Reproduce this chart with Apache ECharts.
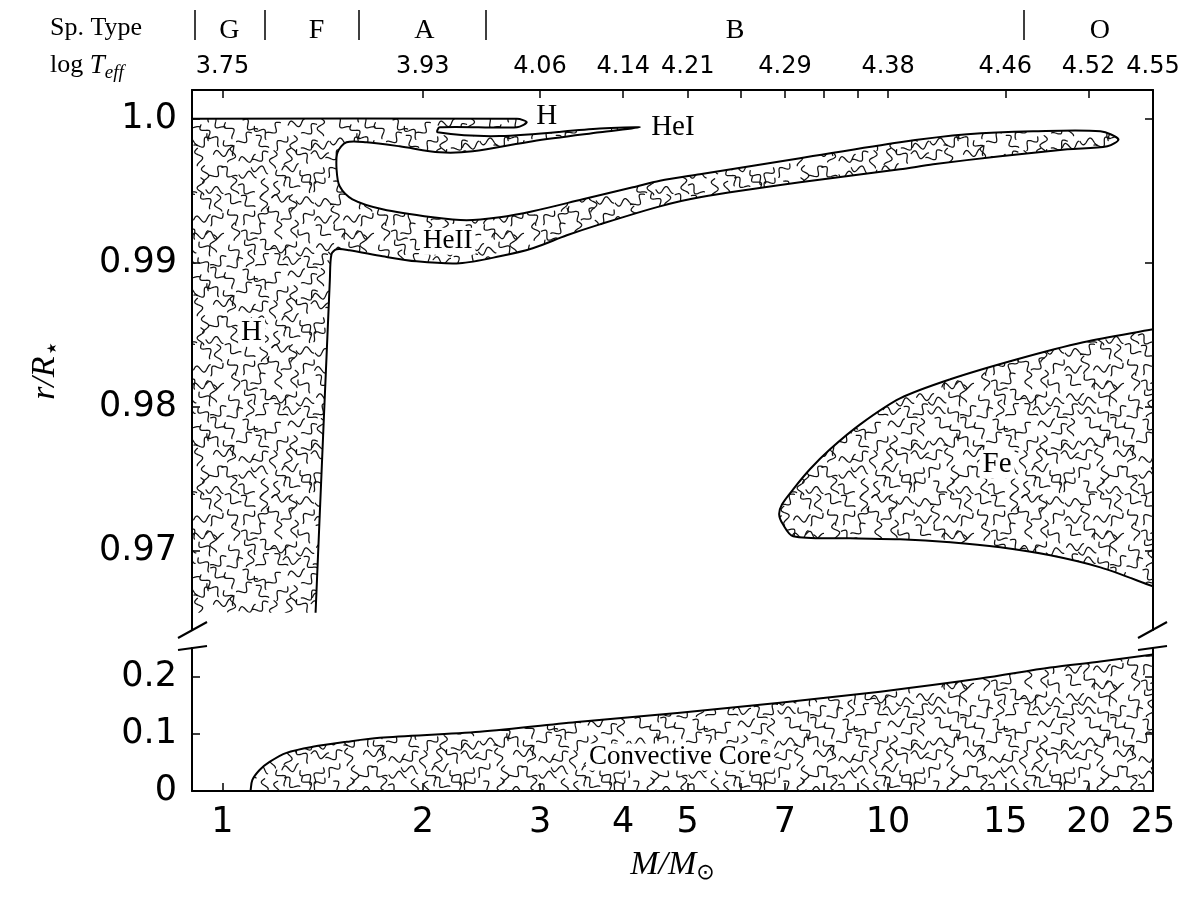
<!DOCTYPE html>
<html>
<head>
<meta charset="utf-8">
<script src="https://cdn.jsdelivr.net/npm/echarts@6/dist/echarts.min.js"></script>
<style>
    html, body { margin: 0; background: #fff; }
    #main { width: 1200px; height: 900px; }
</style>
</head>
<body>
<div id="main"></div>
<script>
// mass range of the plot (log axis, drawn as log10 of the mass)
var massMin = 0.9, massMax = 25;

// H + HeI + HeII zone, walked round from the bottom left corner
var envMass = [0.9, 0.9, 2.77, 2.865, 2.77, 2.12, 2.105, 2.609, 3.689, 4.238, 3.689, 2.925, 2.376, 2.12,
    1.846, 1.646, 1.536, 1.489, 1.484, 1.500, 1.568, 1.740, 2.069, 2.327, 2.609, 2.925, 3.478, 4.136,
    4.541, 5.215, 7.374, 10.42, 13.15, 16.52, 20.84, 22.18, 21.35, 18.59, 14.74, 11.69, 10.42, 7.374,
    5.215, 4.541, 3.689, 3.291, 2.925, 2.609, 2.272, 1.957, 1.740, 1.552, 1.484, 1.458, 1.450, 1.380];
var envR = [0.9657, 1.0, 1.0, 0.99976, 0.99941, 0.99941, 0.99906, 0.99880, 0.99932, 0.99941, 0.99906, 0.99844, 0.99774, 0.99767,
    0.99809, 0.99837, 0.99837, 0.99767, 0.99649, 0.99531, 0.99441, 0.99372, 0.99316, 0.99295, 0.99316, 0.99358, 0.99441, 0.99524,
    0.99570, 0.99615, 0.99726, 0.99837, 0.99892, 0.99913, 0.99913, 0.99858, 0.99809, 0.99788, 0.99740, 0.99684, 0.99649, 0.99559,
    0.99455, 0.99392, 0.99267, 0.99191, 0.99101, 0.99045, 0.98997, 0.99010, 0.99045, 0.99087, 0.99094, 0.99059, 0.98885, 0.9657];

// Fe bump zone
var feMass = [25, 19.64, 15.63, 12.40, 10.42, 9.08, 8.18, 7.63, 7.20, 6.93, 6.86, 6.95, 7.20, 8.77, 10.42, 12.40, 14.74, 17.52, 20.84, 25];
var feR = [0.98538, 0.98448, 0.98330, 0.98191, 0.98058, 0.97878, 0.97705, 0.97566, 0.97427, 0.97323, 0.97253, 0.97184,
    0.97101, 0.97087, 0.97080, 0.97059, 0.97024, 0.96969, 0.96885, 0.96753];

// convective core (lower panel)
var coreMass = [1.102, 1.109, 1.137, 1.177, 1.248, 1.366, 1.536, 1.722, 2.435, 3.442, 4.868, 6.88, 9.73, 13.75, 17.52, 20.84, 25];
var coreR = [0, 0.0193, 0.0368, 0.0509, 0.0667, 0.0772, 0.0860, 0.0930, 0.1035, 0.1211, 0.1368, 0.1544, 0.1737, 0.1965, 0.2158, 0.2263, 0.2386];

// region names
var labelText = ['H', 'HeI', 'HeII', 'H', 'Fe', 'Convective Core'];
var labelMass = [3.07, 4.75, 2.18, 1.106, 14.58, 4.87];
var labelR = [1.00017, 0.99941, 0.99149, 0.98517, 0.97601, 0.0596];
var labelPanel = [0, 0, 0, 0, 0, 1];
var labelSize = [29, 29, 27, 29, 29, 27];

// axes
var tickMass = [1, 2, 3, 4, 5, 6, 7, 8, 9, 10, 15, 20, 25];
var bottomMass = [1, 2, 3, 4, 5, 7, 10, 15, 20, 25];
var teffMass = [1, 2, 3, 4, 5, 7, 10, 15, 20, 25];
var teffLabels = ['3.75', '3.93', '4.06', '4.14', '4.21', '4.29', '4.38', '4.46', '4.52', '4.55'];
var spBoundMass = [0.908, 1.157, 1.60, 2.486, 15.96];
var spMass = [1.024, 1.385, 2.01, 5.89, 20.8];
var spLabels = ['G', 'F', 'A', 'B', 'O'];
var topTicks = [0.97, 0.98, 0.99, 1.0];
var bottomTicks = [0, 0.1, 0.2];

var lg = Math.log10;

// squiggle texture used to fill the convective zones
function makeHatch() {
    var size = 150, step = 15;
    var c = document.createElement('canvas');
    c.width = c.height = size;
    var ctx = c.getContext('2d');
    ctx.strokeStyle = '#111';
    ctx.lineWidth = 1.25;
    ctx.lineCap = 'round';
    ctx.lineJoin = 'round';
    var seed = 2024;
    function rnd() {
        seed = (seed * 16807) % 2147483647;
        return (seed - 1) / 2147483646;
    }
    for (var gy = 0; gy < size; gy += step) {
        for (var gx = 0; gx < size; gx += step) {
            var cx = gx + step * (0.2 + 0.6 * rnd()), cy = gy + step * (0.2 + 0.6 * rnd());
            var ang = Math.floor(rnd() * 4) * Math.PI / 4 + (rnd() - 0.5) * 0.4;
            var flip = rnd() < 0.5 ? 1 : -1;
            for (var ox = -size; ox <= size; ox += size) {
                for (var oy = -size; oy <= size; oy += size) {
                    squiggle(ctx, cx + ox, cy + oy, ang, flip);
                }
            }
        }
    }
    return c;
}

function squiggle(ctx, cx, cy, ang, flip) {
    var len = 17, amp = 3.4;
    ctx.beginPath();
    for (var i = 0; i <= 30; i++) {
        var t = i / 30;
        var u = (t - 0.5) * len, v = flip * amp * Math.sin(t * Math.PI * 2.5);
        var x = cx + u * Math.cos(ang) - v * Math.sin(ang);
        var y = cy + u * Math.sin(ang) + v * Math.cos(ang);
        if (i) ctx.lineTo(x, y); else ctx.moveTo(x, y);
    }
    ctx.stroke();
}

var hatch = { image: makeHatch(), repeat: 'repeat' };

function nearestIndex(list, v) {
    var best = 0;
    for (var i = 1; i < list.length; i++) {
        if (Math.abs(lg(list[i]) - v) < Math.abs(lg(list[best]) - v)) best = i;
    }
    return best;
}

// vertices on the frame are doubled so that the smoothing keeps the corner sharp
function onFrame(m, r) {
    return m <= massMin || m >= massMax || r === 0;
}

function regionSeries(mass, r, panel, floor) {
    var pts = mass.map(function (m, i) { return [lg(m), r[i]]; });
    return {
        type: 'custom',
        xAxisIndex: panel ? 2 : 0,
        yAxisIndex: panel ? 2 : 0,
        silent: true,
        clip: true,
        data: pts,
        renderItem: function (params, api) {
            if (params.dataIndex !== 0) return null;
            var line = [], shape = [];
            mass.forEach(function (m, i) {
                var p = api.coord([lg(m), r[i]]);
                line.push(p);
                shape.push(p);
                if (onFrame(m, r[i])) line.push(p);
                if (onFrame(m, r[i]) || i === mass.length - 1) shape.push(p);
            });
            floor.forEach(function (f) {
                var p = api.coord([lg(f[0]), f[1]]);
                shape.push(p, p);
            });
            return {
                type: 'group',
                children: [
                    { type: 'polygon', shape: { points: shape, smooth: 0.3 }, style: { fill: hatch, stroke: null } },
                    { type: 'polyline', shape: { points: line, smooth: 0.3 }, style: { fill: null, stroke: '#000', lineWidth: 2 } }
                ]
            };
        }
    };
}

function labelSeries(panel) {
    var idx = [];
    labelText.forEach(function (t, i) { if (labelPanel[i] === panel) idx.push(i); });
    return {
        type: 'custom',
        xAxisIndex: panel ? 2 : 0,
        yAxisIndex: panel ? 2 : 0,
        silent: true,
        clip: false,
        data: idx.map(function (i) { return [lg(labelMass[i]), labelR[i]]; }),
        renderItem: function (params, api) {
            var i = idx[params.dataIndex];
            var p = api.coord([api.value(0), api.value(1)]);
            return {
                type: 'text',
                x: p[0], y: p[1],
                style: {
                    text: labelText[i],
                    font: labelSize[i] + 'px "Liberation Serif", "Times New Roman", serif',
                    fill: '#000',
                    align: 'center',
                    verticalAlign: 'middle',
                    backgroundColor: '#fff',
                    padding: [0, 3]
                }
            };
        }
    };
}

var lineStyle = { color: '#000', width: 2 };
var tickStyle = { color: '#000', width: 1.5 };
var sans = '"DejaVu Sans", sans-serif';
var serif = '"Liberation Serif", "DejaVu Serif", serif';

function yAxisFor(grid, side, min, max, ticks, labels) {
    return {
        type: 'value', gridIndex: grid, position: side, min: min, max: max,
        axisLine: { show: true, onZero: false, lineStyle: lineStyle },
        axisTick: { show: true, inside: true, length: 8, customValues: ticks, lineStyle: tickStyle },
        axisLabel: {
            show: labels, customValues: ticks, margin: 15, fontSize: 35, color: '#000', fontFamily: sans,
            formatter: function (v) { return v === 1 ? '1.0' : String(v); }
        },
        splitLine: { show: false }
    };
}

var option = {
    backgroundColor: '#fff',
    animation: false,
    grid: [
        { left: 192, width: 961, top: 90, height: 540, containLabel: false, outerBoundsMode: 'none' },
        { left: 192, width: 961, top: 648, height: 143, containLabel: false, outerBoundsMode: 'none' }
    ],
    xAxis: [
        {
            type: 'value', gridIndex: 0, position: 'top', min: lg(massMin), max: lg(massMax),
            axisLine: { show: true, onZero: false, lineStyle: lineStyle },
            axisTick: { show: true, inside: true, length: 8, customValues: tickMass.map(lg), lineStyle: tickStyle },
            axisLabel: {
                customValues: teffMass.map(lg), margin: 11, fontSize: 24, color: '#000', fontFamily: sans,
                formatter: function (v) { return teffLabels[nearestIndex(teffMass, v)]; }
            },
            splitLine: { show: false }
        },
        {
            type: 'value', gridIndex: 0, position: 'top', offset: 50, min: lg(massMin), max: lg(massMax),
            axisLine: { show: false, onZero: false },
            axisTick: { show: true, inside: false, length: 30, customValues: spBoundMass.map(lg), lineStyle: tickStyle },
            axisLabel: {
                customValues: spMass.map(lg), margin: -5, fontSize: 28, color: '#000', fontFamily: serif,
                formatter: function (v) { return spLabels[nearestIndex(spMass, v)]; }
            },
            splitLine: { show: false }
        },
        {
            type: 'value', gridIndex: 1, position: 'bottom', min: lg(massMin), max: lg(massMax),
            axisLine: { show: true, onZero: false, lineStyle: lineStyle },
            axisTick: { show: true, inside: true, length: 8, customValues: tickMass.map(lg), lineStyle: tickStyle },
            axisLabel: {
                customValues: bottomMass.map(lg), margin: 14, fontSize: 35, color: '#000', fontFamily: sans,
                formatter: function (v) { return String(Math.round(Math.pow(10, v))); }
            },
            splitLine: { show: false },
            name: '{i|M/M}{s|⊙}',
            nameLocation: 'middle',
            nameGap: 55,
            nameTextStyle: {
                rich: {
                    i: { fontSize: 34, fontStyle: 'italic', fontFamily: serif, color: '#000' },
                    s: { fontSize: 22, fontFamily: '"DejaVu Sans", sans-serif', color: '#000', padding: [16, 0, 0, 0] }
                }
            }
        }
    ],
    yAxis: [
        yAxisFor(0, 'left', 0.9645, 1.002, topTicks, true),
        yAxisFor(0, 'right', 0.9645, 1.002, topTicks, false),
        yAxisFor(1, 'left', 0, 0.25, bottomTicks, true),
        yAxisFor(1, 'right', 0, 0.25, bottomTicks, false)
    ],
    graphic: [
        { type: 'text', left: 50, top: 15, style: { text: 'Sp. Type', font: '26px ' + serif, fill: '#000' } },
        {
            type: 'text', left: 50, top: 52,
            style: {
                text: '{r|log }{i|T}{s|eff}',
                rich: {
                    r: { font: '26px ' + serif, fill: '#000' },
                    i: { font: 'italic 27px ' + serif, fill: '#000' },
                    s: { font: 'italic 19px ' + serif, fill: '#000', padding: [14, 0, 0, 0] }
                }
            }
        },
        {
            type: 'text', x: 45, y: 370, rotation: Math.PI / 2,
            style: {
                text: '{i|r/R}{s|⋆}', align: 'center', verticalAlign: 'middle',
                rich: {
                    i: { font: 'italic 34px ' + serif, fill: '#000' },
                    s: { font: '26px "DejaVu Sans", sans-serif', fill: '#000', padding: [16, 0, 0, 0] }
                }
            }
        },
        // broken axis marks
        { type: 'line', shape: { x1: 178, y1: 638, x2: 207, y2: 622 }, style: { stroke: '#000', lineWidth: 2 } },
        { type: 'line', shape: { x1: 1138, y1: 638, x2: 1167, y2: 622 }, style: { stroke: '#000', lineWidth: 2 } },
        { type: 'line', shape: { x1: 178, y1: 650, x2: 207, y2: 646 }, style: { stroke: '#000', lineWidth: 2 } },
        { type: 'line', shape: { x1: 1138, y1: 650, x2: 1167, y2: 646 }, style: { stroke: '#000', lineWidth: 2 } }
    ],
    series: [
        regionSeries(envMass, envR, 0, [[1.380, 0.9657], [0.9, 0.9657]]),
        regionSeries(feMass, feR, 0, [[25, 0.96753], [25, 0.98538]]),
        regionSeries(coreMass, coreR, 1, [[25, 0], [1.102, 0]]),
        labelSeries(0),
        labelSeries(1)
    ]
};

var chart = echarts.init(document.getElementById('main'), null, { renderer: 'canvas' });
chart.setOption(option);
</script>
</body>
</html>
